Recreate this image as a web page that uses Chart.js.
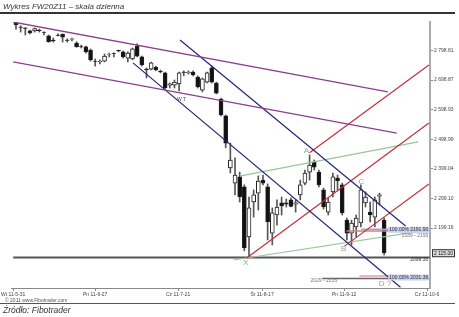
<!DOCTYPE html>
<html>
<head>
<meta charset="utf-8">
<script src="https://cdn.jsdelivr.net/npm/chart.js@4.4.0/dist/chart.umd.min.js"></script>
<style>
  body { margin: 0; background: #fff; width: 459px; height: 317px; overflow: hidden; position: relative; font-family: "Liberation Sans", Arial, sans-serif; }
  #c { position: absolute; left: 0; top: 0; }
  .txt { position: absolute; color: #333; font-style: italic; white-space: nowrap; }
  .rule { position: absolute; left: 0; background: #333; }
</style>
</head>
<body>
<canvas id="c" width="459" height="317"></canvas>
<div class="txt" style="left:3px; top:2px; font-size:8px;">Wykres FW20Z11 – skala dzienna</div>
<div class="rule" style="top:12px; width:455px; height:2px;"></div>
<div class="txt" style="left:5px; top:297px; font-size:5px; font-style:normal; color:#555;">© 2011 www.Fibotrader.com</div>
<div class="rule" style="top:303px; width:455px; height:1px; background:#555;"></div>
<div class="txt" style="left:3px; top:305px; font-size:8.5px;">Źródło: Fibotrader</div>

<script>
// daily candles FW20Z11, 2011-05-31 .. 2011-09
const opens  = [2893,2878,2875,2865,2865,2868,2861,2848,2834,2851,2853,2834,2836,2824,2812,2811,2800,2763,2760,2763,
                2784,2790,2799,2794,2773,2770,2814,2777,2736,2736,2743,2728,2723,2682,2682,2686,2726,2723,2726,2709,
                2665,2692,2740,2689,2635,2578,2402,2351,2372,2338,2169,2287,2317,2361,2338,2182,2243,2284,2284,2294,
                2280,2311,2351,2388,2422,2388,2328,2253,2321,2368,2345,2226,2182,2203,2216,2284,2253,2236,2307,2226];
const highs  = [2897,2882,2876,2868,2875,2871,2862,2851,2841,2855,2855,2838,2841,2828,2817,2814,2804,2770,2767,2787,
                2790,2791,2800,2797,2794,2807,2821,2780,2740,2760,2746,2733,2726,2689,2699,2726,2730,2730,2730,2713,
                2706,2726,2747,2692,2638,2581,2486,2436,2388,2345,2304,2328,2375,2378,2348,2267,2294,2304,2297,2301,
                2294,2361,2395,2446,2429,2395,2334,2301,2385,2378,2351,2233,2226,2243,2345,2321,2287,2304,2317,2233];
const lows   = [2871,2861,2851,2855,2861,2861,2851,2827,2827,2848,2827,2827,2831,2810,2807,2790,2763,2746,2753,2760,
                2777,2777,2794,2773,2760,2767,2777,2746,2706,2733,2730,2723,2669,2672,2672,2662,2713,2719,2713,2672,
                2659,2689,2689,2652,2578,2470,2385,2311,2287,2122,2099,2236,2260,2345,2159,2142,2209,2243,2270,2270,
                2253,2294,2345,2361,2395,2338,2263,2243,2304,2328,2243,2159,2142,2169,2203,2270,2220,2203,2277,2108];
const closes = [2885,2877,2873,2858,2873,2866,2860,2828,2831,2850,2844,2833,2838,2811,2811,2794,2767,2762,2763,2780,
                2785,2789,2797,2777,2790,2804,2780,2750,2733,2757,2733,2726,2672,2686,2692,2723,2725,2726,2716,2676,
                2703,2723,2692,2655,2581,2486,2429,2378,2304,2132,2267,2311,2358,2351,2220,2250,2270,2274,2280,2272,
                2284,2345,2385,2412,2405,2345,2270,2287,2372,2358,2250,2182,2216,2233,2328,2304,2243,2294,2311,2115];

// x axis: trading-day index, date labels every 18 sessions
const dateLabels = ["Wt 11-5-31", "Pn 11-6-27", "Cz 11-7-21", "Śr 11-8-17", "Pn 11-9-12", "Cz 11-10-6"];
const dateTicks  = [-0.6, 17, 34.8, 52.8, 70.4, 88.2];

// price axis
const priceTicks  = [2798.81, 2698.87, 2598.93, 2498.99, 2399.04, 2299.10, 2199.16];
const priceLabels = ["2 798.81", "2 698.87", "2 598.93", "2 498.99", "2 399.04", "2 299.10", "2 199.16"];

// trend lines [x, price]
const purpleUpper = [[-0.6, 2895], [79.8, 2659]];
const purpleLower = [[-0.6, 2760], [81.7, 2520]];
const navyUpper   = [[35.2, 2834], [83.6, 2206]];
const navyLower   = [[25.1, 2757], [82.5, 1999]];
const redA        = [[63.0, 2453], [88.6, 2750]];
const redX        = [[49.5, 2098], [88.6, 2554]];
const redB        = [[70.5, 2138], [88.6, 2348]];
const greenUpper  = [[48.2, 2375], [86.3, 2490]];
const greenLower  = [[46.7, 2091], [88.6, 2193]];
const support     = [[-0.6, 2099.3], [88.8, 2099.3]];
const fiboTopBlue = [[74.1, 2195], [88.8, 2195]];
const fiboTopRed  = [[70.9, 2189], [88.8, 2189]];
const fiboLowRed  = [[73.7, 2037], [88.8, 2037]];
const fiboLowGray = [[65.7, 2029], [88.8, 2029]];

// wave labels
const waveNames = ["A", "B", "C", "X", "D ?"];
const waveX     = [62.3, 70.3, 74.1, 49.3, 79.2];
const waveY     = [2459, 2128, 2355, 2082, 2011];

const idx = opens.map((_, i) => i);
const bodies = idx.map(i => ({ x: i, y: [opens[i], closes[i]] }));
const wicks  = idx.map(i => ({ x: i, y: [lows[i], highs[i]] }));

function line(pts, color, width) {
  return {
    type: "line",
    data: pts.map(p => ({ x: p[0], y: p[1] })),
    borderColor: color,
    borderWidth: width || 1,
    pointRadius: 0,
    fill: false,
    tension: 0
  };
}

const labelsPlugin = {
  id: "labels",
  afterDatasetsDraw(chart) {
    const { ctx, scales: { x, y } } = chart;
    ctx.save();
    ctx.textBaseline = "middle";
    ctx.font = "8px 'Liberation Sans', Arial, sans-serif";
    ctx.fillStyle = "#94a894";
    waveNames.forEach((n, i) => {
      ctx.textAlign = "center";
      ctx.fillText(n, x.getPixelForValue(waveX[i]), y.getPixelForValue(waveY[i]));
    });
    ctx.font = "5px 'Liberation Sans', Arial, sans-serif";
    ctx.fillStyle = "#3a3a8a";
    ctx.textAlign = "center";
    ctx.fillText("W.T", x.getPixelForValue(35.5), y.getPixelForValue(2632));

    // fibo boxes
    const right = x.getPixelForValue(88.7);
    function box(text, price, bg, fg) {
      const py = y.getPixelForValue(price);
      ctx.font = "5px 'Liberation Sans', Arial, sans-serif";
      const w = ctx.measureText(text).width + 2;
      ctx.fillStyle = bg;
      ctx.fillRect(right - w, py - 3, w, 6);
      ctx.fillStyle = fg;
      ctx.textAlign = "right";
      ctx.fillText(text, right - 1, py);
    }
    box("100.00% 2191.90", 2193, "#c8d0ec", "#333");
    box("100.00% 2031.36", 2032, "#c8d0ec", "#333");
    ctx.fillStyle = "#777";
    ctx.textAlign = "right";
    ctx.fillText("2189 - 2195", right - 1, y.getPixelForValue(2172));
    ctx.textAlign = "left";
    ctx.fillText("2029 - 2035", x.getPixelForValue(63.2), y.getPixelForValue(2020));
    ctx.textAlign = "right";
    ctx.fillStyle = "#333";
    ctx.fillText("2099.30", right - 1, y.getPixelForValue(2092));

    // last price box on the axis
    const bx = chart.chartArea.right + 2, by = y.getPixelForValue(2114);
    ctx.fillStyle = "#ddd";
    ctx.fillRect(bx, by - 4, 23, 8);
    ctx.strokeStyle = "#333";
    ctx.lineWidth = 1;
    ctx.strokeRect(bx + 0.5, by - 3.5, 22, 7);
    ctx.fillStyle = "#111";
    ctx.textAlign = "left";
    ctx.fillText("2 115.00", bx + 2, by);
    ctx.restore();
  }
};

new Chart(document.getElementById("c"), {
  type: "bar",
  data: {
    datasets: [
      line(purpleUpper, "#8a3f8f", 1.3),
      line(purpleLower, "#8a3f8f", 1.3),
      line(navyUpper, "#25257a", 1.2),
      line(navyLower, "#25257a", 1.2),
      line(redA, "#c4303a", 1.2),
      line(redX, "#c4303a", 1.2),
      line(redB, "#c4303a", 1.2),
      line(greenUpper, "#9cc49a", 1.2),
      line(greenLower, "#9cc49a", 1.2),
      line(fiboTopBlue, "#9aa4dc", 1.5),
      line(fiboTopRed, "#d08080", 1.5),
      line(fiboLowRed, "#e89aa8", 1.5),
      line(fiboLowGray, "#666", 1.5),
      line(support, "#555", 2),
      {
        label: "body",
        data: bodies,
        grouped: false,
        barThickness: 4,
        borderSkipped: false,
        borderWidth: 1,
        borderColor: "#222",
        backgroundColor: ctx => {
          const v = ctx.raw && ctx.raw.y;
          return v && v[1] < v[0] ? "#111" : "#fff";
        }
      },
      {
        label: "wick",
        data: wicks,
        grouped: false,
        barThickness: 1,
        borderWidth: 0,
        backgroundColor: "#555"
      }
    ]
  },
  options: {
    responsive: false,
    animation: false,
    devicePixelRatio: 1,
    layout: { padding: { left: 3, top: 22, right: 0, bottom: 0 } },
    plugins: { legend: { display: false }, tooltip: { enabled: false } },
    scales: {
      x: {
        type: "linear",
        offset: false,
        min: -1.05,
        max: 88.84,
        afterBuildTicks: s => { s.ticks = dateTicks.map(v => ({ value: v })); },
        afterFit: s => { s.height = 29; },
        grid: { drawOnChartArea: false, tickLength: 3, color: "#888", offset: false },
        border: { color: "#888", width: 1 },
        ticks: {
          autoSkip: false,
          maxRotation: 0,
          padding: 1,
          color: "#444",
          font: { size: 5 },
          callback: (v, i) => dateLabels[i]
        }
      },
      y: {
        position: "right",
        min: 1996.5,
        max: 2895,
        afterBuildTicks: s => { s.ticks = priceTicks.map(v => ({ value: v })); },
        afterFit: s => { s.width = 29; },
        grid: { drawOnChartArea: false, tickLength: 3, color: "#888" },
        border: { color: "#aaa", width: 2 },
        ticks: {
          autoSkip: false,
          padding: 1,
          color: "#444",
          font: { size: 5 },
          callback: (v, i) => priceLabels[i]
        }
      }
    }
  },
  plugins: [labelsPlugin]
});
</script>
</body>
</html>
